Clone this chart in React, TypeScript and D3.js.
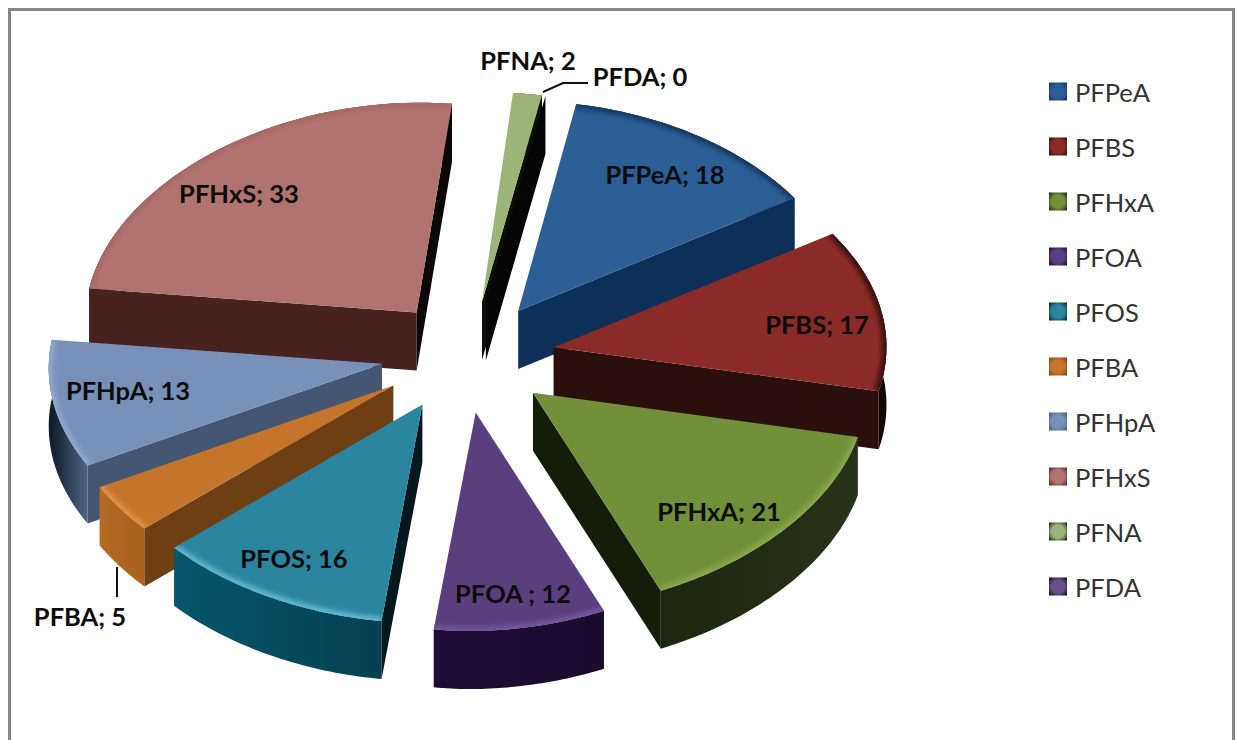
import React from "react";
import * as d3 from "d3";

const categories = ["PFPeA", "PFBS", "PFHxA", "PFOA", "PFOS", "PFBA", "PFHpA", "PFHxS", "PFNA", "PFDA"];
const seriesValues = [18, 17, 21, 12, 16, 5, 13, 33, 2, 0];
const labelSeparators = ["; ", "; ", "; ", " ; ", "; ", "; ", "; ", "; ", "; ", "; "];

const topColours = ["#2b5f96", "#8b2b27", "#728f3a", "#5a3f7e", "#2c859f", "#c4752b", "#7890b8", "#b17370", "#9cb478", "#6a4f8e"];
const startWallColours = ["#0d3058", "#2a0f0c", "#141d0a", "#1a0b2d", "#04181e", "#6e3f13", "#445672", "#47221f", "#0b0f05", "#050505"];
const endWallColours = ["#0d3058", "#2a0f0c", "#141d0a", "#1a0b2d", "#04181e", "#6e3f13", "#445672", "#0c0808", "#0b0f05", "#050505"];
const rimFrom = ["#0d3058", "#2a0f0c", "#1c260e", "#1f0d38", "#06566b", "#b56b25", "#0c1826", "#47221f", "#0b0f05", "#050505"];
const rimTo = ["#0d3058", "#140605", "#28331a", "#1a0b2d", "#064052", "#a8621f", "#4f6484", "#47221f", "#0b0f05", "#050505"];
const bevelColours = ["#16355c", "#2e0c0b", "#8ba84e", "#7358a0", "#62bbd2", "#e0944a", "#93a9cf", "#a66865", "#9cb478", "#6a4f8e"];
const labelX = [665, 817, 719, 513, 294, 80, 128, 239, 528, 640];
const labelY = [174, 324, 511, 593, 558, 616, 390, 193, 60, 76];

const CX = 468, CY = 357, RX = 333, RY = 214, DEPTH = 58, EXPLODE = 0.26;
const START = (12 * Math.PI) / 180;
const rad = Math.PI / 180;

const project = (u: number, v: number): [number, number] => {
  const s = 1 + 0.02 * v - 0.031 * v * v;
  return [CX + RX * u * s, CY + RY * v + 3 * v * v - 6 * Math.max(u, 0)];
};
// the picture's perspective foreshortens the lower left of the ring
const warp = (t: number) => t - 2 * rad * (1 + Math.cos(t - 240 * rad));

export default function App() {
  const arcs = d3
    .pie<number>()
    .sort(null)
    .startAngle(START)
    .endAngle(START + 2 * Math.PI)(seriesValues);

  const line = d3.line<[number, number]>();

  const slices = arcs.map((a, i) => {
    const mid = (a.startAngle + a.endAngle) / 2;
    const ox = EXPLODE * Math.sin(mid);
    const oy = -EXPLODE * Math.cos(mid);
    const steps = 40;
    const arcPts = d3.range(steps + 1).map((k) => {
      const t = warp(a.startAngle + ((a.endAngle - a.startAngle) * k) / steps);
      return project(ox + Math.sin(t), oy - Math.cos(t));
    });
    const apex = project(ox, oy);
    const down = (p: [number, number]): [number, number] => [p[0], p[1] + DEPTH];
    const first = arcPts[0];
    const last = arcPts[steps];
    const walls: { d: string; fill: string }[] = [];
    if (Math.sin(a.startAngle) < 0)
      walls.push({ d: line([apex, first, down(first), down(apex)])! + "Z", fill: startWallColours[i] });
    if (Math.sin(a.endAngle) > 0)
      walls.push({ d: line([apex, last, down(last), down(apex)])! + "Z", fill: endWallColours[i] });
    return {
      i,
      order: -Math.cos(mid),
      top: line([apex, ...arcPts])! + "Z",
      arc: line(arcPts)!,
      rim: line([...arcPts, ...arcPts.map(down).reverse()])! + "Z",
      walls,
    };
  });
  const painted = d3.sort(slices, (s) => s.order);

  const yLegend = d3.scalePoint<string>().domain(categories).range([91.5, 586.5]);
  const sans = "Lato, 'Open Sans', sans-serif";

  return (
    <svg
      width={1239}
      height={740}
      viewBox="0 0 1239 740"
      style={{ position: "absolute", left: 0, top: 0, display: "block" }}
    >
      <defs>
        <filter id="soft" x="-20%" y="-20%" width="140%" height="140%">
          <feGaussianBlur stdDeviation="2.5" />
        </filter>
        {categories.map((c, i) => (
          <React.Fragment key={c}>
            <linearGradient id={`rim${i}`} x1="0" x2="1" y1="0" y2="0">
              <stop offset="0" stopColor={rimFrom[i]} />
              <stop offset="1" stopColor={rimTo[i]} />
            </linearGradient>
            <radialGradient id={`key${i}`} r="0.72">
              <stop offset="0" stopColor={topColours[i]} />
              <stop offset="0.5" stopColor={topColours[i]} />
              <stop offset="1" stopColor={startWallColours[i]} />
            </radialGradient>
            <clipPath id={`clip${i}`}>
              <path d={slices[i].top} />
            </clipPath>
          </React.Fragment>
        ))}
      </defs>
      <rect x={0} y={0} width={1239} height={740} fill="#ffffff" />
      <rect x={9.5} y={9.5} width={1224} height={760} fill="#ffffff" stroke="#858585" strokeWidth={3} />

      {painted.map((s) => (
        <g key={categories[s.i]}>
          <path d={s.rim} fill={`url(#rim${s.i})`} />
          {s.walls.map((w, k) => (
            <path key={k} d={w.d} fill={w.fill} />
          ))}
          <path d={s.top} fill={topColours[s.i]} />
          <g clipPath={`url(#clip${s.i})`}>
            <path d={s.arc} fill="none" stroke={bevelColours[s.i]} strokeWidth={8} filter="url(#soft)" />
          </g>
        </g>
      ))}

      <path d={line([[543, 92], [563, 83], [588, 83]])!} fill="none" stroke="#111" strokeWidth={2} />
      <path d={line([[117, 567], [117, 597]])!} fill="none" stroke="#111" strokeWidth={2} />

      {categories.map((c, i) => (
        <text
          key={c}
          x={labelX[i]}
          y={labelY[i]}
          textAnchor="middle"
          dominantBaseline="central"
          fontFamily={sans}
          fontWeight={700}
          fontSize={25.5}
          fill="#0c0c0c"
        >
          {`${c}${labelSeparators[i]}${seriesValues[i]}`}
        </text>
      ))}

      {categories.map((c, i) => (
        <g key={c} transform={`translate(0,${yLegend(c)})`}>
          <rect x={1049} y={-9} width={18} height={18} fill={`url(#key${i})`} />
          <text x={1075} y={0} dominantBaseline="central" fontFamily={sans} fontSize={25.5} fill="#333333">
            {c}
          </text>
        </g>
      ))}
    </svg>
  );
}
